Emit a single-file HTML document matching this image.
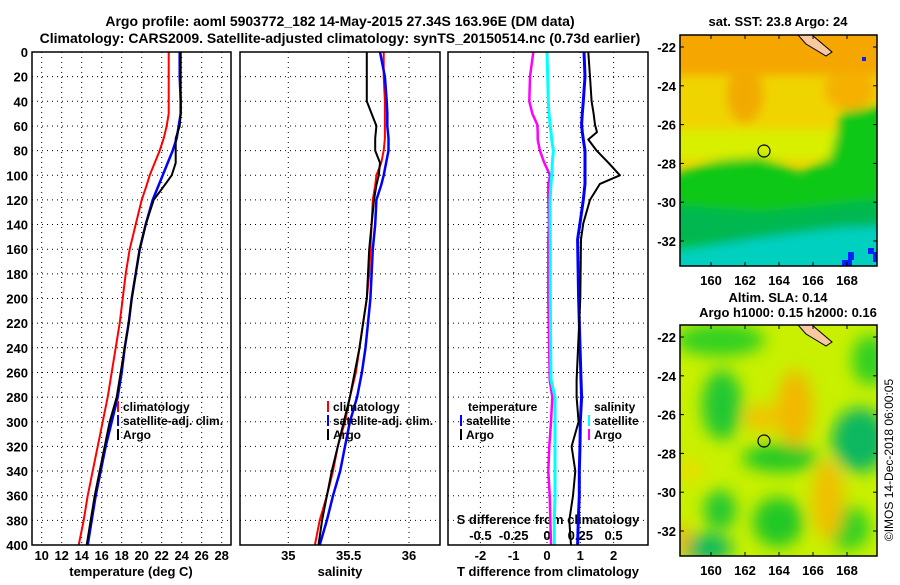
<!DOCTYPE html>
<html><head><meta charset="utf-8"><style>
body{margin:0;background:#fff;}
svg text{font-family:"Liberation Sans",sans-serif;font-weight:bold;fill:#000;}
</style></head><body>
<svg id="fig" width="900" height="580" viewBox="0 0 900 580" xmlns="http://www.w3.org/2000/svg">
<defs>
<filter id="bl" x="-20%" y="-20%" width="140%" height="140%"><feGaussianBlur stdDeviation="5"/></filter>
<filter id="bl3" x="-30%" y="-30%" width="160%" height="160%"><feGaussianBlur stdDeviation="8"/></filter>
<clipPath id="c1"><rect x="680" y="35" width="197" height="231"/></clipPath>
<clipPath id="c2"><rect x="680" y="325" width="197" height="231"/></clipPath>
</defs>
<text x="340" y="26" font-size="14" text-anchor="middle">Argo profile: aoml 5903772_182 14-May-2015 27.34S 163.96E (DM data)</text>
<text x="340" y="43" font-size="14" text-anchor="middle">Climatology: CARS2009. Satellite-adjusted climatology: synTS_20150514.nc (0.73d earlier)</text>

<!-- Map 1 -->
<g clip-path="url(#c1)">
<rect x="680" y="35" width="197" height="231" fill="#f0d400"/>
<g filter="url(#bl)">
<rect x="670" y="25" width="220" height="50" fill="#f5a600"/>
<ellipse cx="745" cy="95" rx="18" ry="28" fill="#f2aa00"/>
<ellipse cx="850" cy="90" rx="25" ry="20" fill="#f5b000"/>
<rect x="670" y="130" width="220" height="30" fill="#d8f000"/>
<polygon points="670,175 720,160 760,157 800,172 830,158 842,112 890,105 890,270 670,270" fill="#10c818"/>
<polygon points="670,205 760,212 877,200 890,240 670,245" fill="#00b850"/>
<polygon points="670,252 760,238 840,228 890,226 890,275 670,275" fill="#00d0c0"/>
</g>
<rect x="848" y="252" width="6" height="8" fill="#0020ff"/><rect x="842" y="260" width="10" height="6" fill="#0020ff"/><rect x="868" y="248" width="6" height="6" fill="#0020ff"/><rect x="873" y="252" width="4" height="10" fill="#0020ff"/>
<rect x="862" y="57" width="4" height="4" fill="#0020ff"/>
<polygon points="798,35 812,35 832,52 826,56 806,44" fill="#f8c8a0" stroke="#000" stroke-width="1"/>
<circle cx="764" cy="151" r="6" fill="none" stroke="#000" stroke-width="1.2"/>
</g>
<rect x="680" y="35" width="197" height="231" fill="none" stroke="#000" stroke-width="1.5"/>
<text x="778" y="26" font-size="13" text-anchor="middle">sat. SST: 23.8 Argo: 24</text>

<!-- Map 2 -->
<g clip-path="url(#c2)">
<rect x="680" y="325" width="197" height="231" fill="#c8f000"/>
<g filter="url(#bl3)">
<ellipse cx="720" cy="340" rx="45" ry="16" fill="#30d020"/>
<ellipse cx="722" cy="405" rx="20" ry="35" fill="#20c830"/>
<ellipse cx="780" cy="458" rx="38" ry="14" fill="#20c828"/>
<ellipse cx="860" cy="440" rx="28" ry="32" fill="#10b860"/>
<ellipse cx="870" cy="360" rx="18" ry="25" fill="#30d020"/>
<ellipse cx="720" cy="510" rx="16" ry="20" fill="#20c830"/>
<ellipse cx="778" cy="522" rx="25" ry="25" fill="#20c828"/>
<ellipse cx="705" cy="548" rx="28" ry="14" fill="#10b860"/>
<ellipse cx="848" cy="528" rx="22" ry="22" fill="#30d020"/>
<ellipse cx="795" cy="408" rx="18" ry="38" fill="#f2b800"/>
<ellipse cx="762" cy="418" rx="18" ry="14" fill="#f0c400"/>
<ellipse cx="828" cy="500" rx="16" ry="40" fill="#f0c000"/>
<ellipse cx="682" cy="540" rx="8" ry="15" fill="#f0b000"/>
<ellipse cx="690" cy="470" rx="12" ry="10" fill="#f0d800"/>
</g>
<polygon points="798,325 812,325 832,342 826,346 806,334" fill="#f8c8a0" stroke="#000" stroke-width="1"/>
<circle cx="764" cy="441" r="6" fill="none" stroke="#000" stroke-width="1.2"/>
</g>
<rect x="680" y="325" width="197" height="231" fill="none" stroke="#000" stroke-width="1.5"/>
<text x="778" y="302" font-size="13" text-anchor="middle">Altim. SLA: 0.14</text>
<text x="788" y="317" font-size="13" text-anchor="middle">Argo h1000: 0.15 h2000: 0.16</text>
<text x="0" y="0" font-size="12" style="font-weight:normal" text-anchor="middle" transform="translate(893,460) rotate(-90)">©IMOS 14-Dec-2018 06:00:05</text>
<g id="plots"></g>
</svg>
<script>
// ---- data ----
const depths1 = [0,20,40,50,60,70,80,90,100,108,120,140,160,180,200,220,240,260,280,300,320,340,360,380,400];
const tempClim = [22.7,22.7,22.7,22.7,22.5,22.2,21.8,21.3,20.8,20.5,20.0,19.4,18.8,18.4,18.1,17.8,17.4,17.0,16.6,16.1,15.6,15.1,14.6,14.2,13.7];
const tempSat = [23.8,23.8,23.9,23.9,23.7,23.5,23.1,22.6,22.1,21.7,21.1,20.4,19.8,19.4,19.0,18.7,18.3,18.0,17.6,17.0,16.4,15.9,15.4,15.0,14.6];
const tempArgo = [23.9,23.9,23.9,23.9,23.8,23.4,23.4,23.4,23.0,22.3,21.2,20.4,19.8,19.4,19.0,18.7,18.3,17.9,17.5,16.8,16.3,15.8,15.3,14.9,14.5];
const salClim = [35.79,35.79,35.80,35.80,35.80,35.80,35.79,35.77,35.73,35.72,35.70,35.69,35.68,35.67,35.65,35.62,35.59,35.56,35.51,35.47,35.41,35.37,35.32,35.26,35.22];
const salSat = [35.76,35.80,35.815,35.82,35.82,35.83,35.83,35.81,35.79,35.77,35.73,35.72,35.70,35.69,35.68,35.66,35.64,35.61,35.57,35.51,35.47,35.43,35.37,35.32,35.26];
const salArgo = [35.65,35.65,35.65,35.69,35.73,35.72,35.72,35.76,35.75,35.73,35.71,35.69,35.67,35.66,35.65,35.62,35.59,35.55,35.51,35.46,35.41,35.36,35.32,35.28,35.25];
const depths3 = [0,20,40,50,59,65,71,80,90,100,107,120,139,152,200,266,280,300,320,340,360,380,400];
const tDiffSat = [1.11,1.14,1.09,1.06,1.04,1.06,1.09,1.14,1.14,1.14,1.14,1.09,0.99,0.92,0.95,1.02,1.04,1.0,0.99,0.97,0.97,0.94,0.92];
const tDiffArgo = [1.24,1.29,1.34,1.40,1.44,1.50,1.24,1.49,1.85,2.19,1.59,1.29,1.09,1.02,1.0,0.89,0.89,0.95,0.74,0.85,0.78,0.67,0.72];
const sDiffSat = [0.0,0.005,0.01,0.015,0.023,0.03,0.035,0.048,0.04,0.035,0.03,0.023,0.023,0.025,0.025,0.03,0.06,0.06,0.06,0.06,0.06,0.055,0.055];
const sDiffArgo = [-0.103,-0.128,-0.133,-0.11,-0.073,-0.07,-0.07,-0.053,-0.02,0.023,0.01,0.01,0.015,0.01,0.01,0.02,0.04,0.03,0.017,0.01,0.02,0.025,0.03];
const depthTicks = [0,20,40,60,80,100,120,140,160,180,200,220,240,260,280,300,320,340,360,380,400];
const tempTicks = [10,12,14,16,18,20,22,24,26,28];
const salTicks = [35,35.5,36];
const tdTicks = [-2,-1,0,1,2];
const sdTicks = [-0.5,-0.25,0,0.25,0.5];
const sdTickLabels = ["-0.5","-0.25","0","0.25","0.5"];
const latTicks = [-22,-24,-26,-28,-30,-32];
const lonTicks = [160,162,164,166,168];

// ---- scales ----
const yD = d => 52 + d * 1.2325;
const xT = t => 41.7 + (t - 10) * 10;
const xS = s => 288.3 + (s - 35) * 120.7;
const xTd = v => 547 + v * 33.3;
const xSd = v => 547 + v * 133.2;
const yLat1 = l => 47 + (-22 - l) * 19.4;
const xLon = l => 711 + (l - 160) * 17;

const NS = "http://www.w3.org/2000/svg";
const G = document.getElementById('plots');
function mk(tag, attrs, parent) {
  const e = document.createElementNS(NS, tag);
  for (const k in attrs) e.setAttribute(k, attrs[k]);
  (parent || G).appendChild(e);
  return e;
}
function txt(s, x, y, anchor, size, parent) {
  const t = mk('text', {x: x, y: y, 'text-anchor': anchor, 'font-size': size}, parent);
  t.textContent = s;
  return t;
}

const panels = [[32,231],[240,440],[448,648]];
panels.forEach((p, i) => {
  const g = mk('g', {});
  
  
  depthTicks.forEach(d => {
    if (d === 0 || d === 400) return;
    mk('line', {x1: p[0], x2: p[1], y1: yD(d), y2: yD(d), stroke: '#000', 'stroke-width': 1, 'stroke-dasharray': '1,4'}, g);
  });
  const xs = i === 0 ? tempTicks.map(xT) : i === 1 ? salTicks.map(xS) : tdTicks.map(xTd);
  xs.forEach(x => mk('line', {x1: x, x2: x, y1: 52, y2: 545, stroke: '#000', 'stroke-width': 1, 'stroke-dasharray': '1,4'}, g));
});

const yl = mk('g', {});


depthTicks.forEach(d => txt(String(d), 28, yD(d) + 5, 'end', 13, yl));

const xa1 = mk('g', {});


tempTicks.forEach(t => txt(String(t), xT(t), 560, 'middle', 13, xa1));
txt('temperature (deg C)', 131, 576, 'middle', 13, xa1);
const xa2 = mk('g', {});


salTicks.forEach(s => txt(String(s), xS(s), 560, 'middle', 13, xa2));
txt('salinity', 340, 576, 'middle', 13, xa2);
const xa3 = mk('g', {});


tdTicks.forEach(t => txt(String(t), xTd(t), 560, 'middle', 13, xa3));
txt('T difference from climatology', 548, 576, 'middle', 13, xa3);
const xa4 = mk('g', {});


txt('S difference from climatology', 548, 524, 'middle', 13, xa4);
sdTicks.forEach((s, i) => txt(sdTickLabels[i], xSd(s), 540, 'middle', 13, xa4));

function line(xs, ds, xf, color, w, name) {
  const pts = ds.map((d, i) => xf(xs[i]).toFixed(1) + ',' + yD(d).toFixed(1)).join(' ');
  const pl = mk('polyline', {points: pts, fill: 'none', stroke: color, 'stroke-width': w, 'stroke-linejoin': 'round'});
  
  
}
line(tempClim, depths1, xT, '#ff0000', 2, 'temp-climatology-line');
line(tempSat, depths1, xT, '#0000ff', 2.5, 'temp-satellite-line');
line(tempArgo, depths1, xT, '#000', 2, 'temp-argo-line');
line(salClim, depths1, xS, '#ff0000', 2, 'sal-climatology-line');
line(salSat, depths1, xS, '#0000ff', 2.5, 'sal-satellite-line');
line(salArgo, depths1, xS, '#000', 2, 'sal-argo-line');
line(sDiffArgo, depths3, xSd, '#ff00ff', 2.5, 's-diff-argo-line');
line(sDiffSat, depths3, xSd, '#00ffff', 3, 's-diff-satellite-line');
line(tDiffSat, depths3, xTd, '#0000ff', 3, 't-diff-satellite-line');
line(tDiffArgo, depths3, xTd, '#000', 2, 't-diff-argo-line');

panels.forEach((p, i) => {
  const r = mk('rect', {x: p[0], y: 52, width: p[1] - p[0], height: 493, fill: 'none', stroke: '#000', 'stroke-width': 1.5});
  
  
});

function legend(x, y, items, name) {
  const g = mk('g', {});
  
  
  items.forEach((it, i) => {
    mk('rect', {x: x, y: y + i * 14 - 10, width: 2, height: 11, fill: it[1]}, g);
    txt(it[0], x + 6, y + i * 14, 'start', 12, g);
  });
}
legend(117, 411, [['climatology', '#f00'], ['satellite-adj. clim.', '#00f'], ['Argo', '#000']], 'temp-legend');
legend(327, 411, [['climatology', '#f00'], ['satellite-adj. clim.', '#00f'], ['Argo', '#000']], 'sal-legend');
txt('temperature', 468, 411, 'start', 12);
legend(460, 425, [['satellite', '#00f'], ['Argo', '#000']], 't-diff-legend');
txt('salinity', 594, 411, 'start', 12);
legend(588, 425, [['satellite', '#0ff'], ['Argo', '#f0f']], 's-diff-legend');

[0, 290].forEach((off, k) => {
  const g = mk('g', {});
  
  
  latTicks.forEach(l => {
    const y = yLat1(l) + off;
    txt(String(l), 676, y + 5, 'end', 13, g);
    mk('line', {x1: 680, x2: 684, y1: y, y2: y, stroke: '#000'}, g);
    mk('line', {x1: 873, x2: 877, y1: y, y2: y, stroke: '#000'}, g);
  });
  lonTicks.forEach(l => {
    const x = xLon(l);
    txt(String(l), x, 285 + off, 'middle', 13, g);
    mk('line', {x1: x, x2: x, y1: 35 + off, y2: 39 + off, stroke: '#000'}, g);
    mk('line', {x1: x, x2: x, y1: 262 + off, y2: 266 + off, stroke: '#000'}, g);
  });
});
</script>
</body></html>
